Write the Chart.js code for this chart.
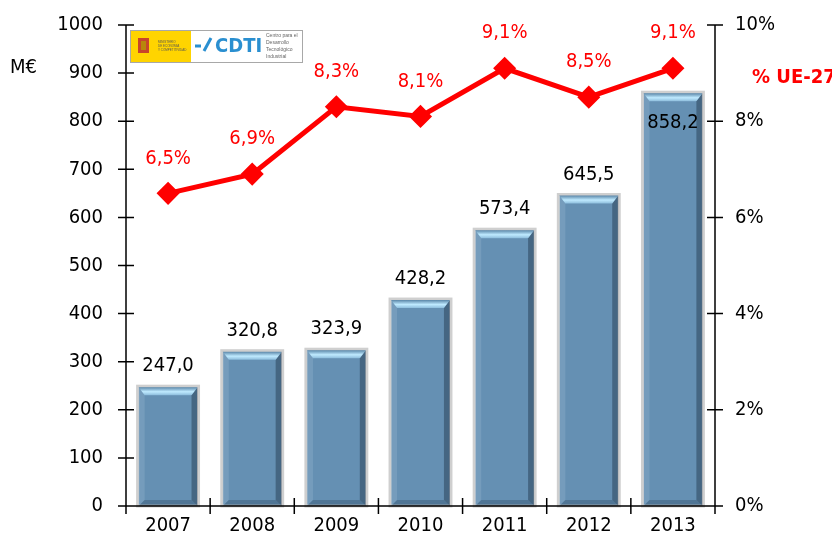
<!DOCTYPE html>
<html>
<head>
<meta charset="utf-8">
<script src="https://cdn.jsdelivr.net/npm/chart.js@4"></script>
<style>
  html, body { margin: 0; padding: 0; background: #fff; }
  #wrap { width: 832px; height: 546px; position: relative; }
</style>
</head>
<body>
<div id="wrap"><canvas id="chart" width="832" height="546"></canvas></div>
<script>
// datos
const years = ['2007', '2008', '2009', '2010', '2011', '2012', '2013'];
const retornos = [247.0, 320.8, 323.9, 428.2, 573.4, 645.5, 858.2];
const pctUE = [6.5, 6.9, 8.3, 8.1, 9.1, 8.5, 9.1];
const leftTicks = [0, 100, 200, 300, 400, 500, 600, 700, 800, 900, 1000];
const rightTicks = [0, 2, 4, 6, 8, 10];

const FONT = "'DejaVu Sans Condensed', 'Liberation Sans Narrow', 'Liberation Sans', sans-serif";

function fmt(v, d) {
    return v.toFixed(d).replace('.', ',');
}

// ejes con marcas que cruzan la linea
const axesPlugin = {
    id: 'axesPlugin',
    afterDraw(chart) {
        const c = chart.ctx;
        const a = chart.chartArea;
        const y = chart.scales.y;
        const y2 = chart.scales.y2;
        c.save();
        c.strokeStyle = '#000';
        c.lineWidth = 1.5;
        c.beginPath();
        c.moveTo(a.left, a.top); c.lineTo(a.left, a.bottom);
        c.moveTo(a.right, a.top); c.lineTo(a.right, a.bottom);
        c.moveTo(a.left - 8, a.bottom); c.lineTo(a.right + 8, a.bottom);
        leftTicks.forEach(t => {
            const py = y.getPixelForValue(t);
            c.moveTo(a.left - 8, py); c.lineTo(a.left + 8, py);
        });
        rightTicks.forEach(t => {
            const py = y2.getPixelForValue(t);
            c.moveTo(a.right - 8, py); c.lineTo(a.right + 8, py);
        });
        const w = (a.right - a.left) / years.length;
        for (let i = 0; i <= years.length; i++) {
            const px = a.left + w * i;
            c.moveTo(px, a.bottom - 8); c.lineTo(px, a.bottom + 8);
        }
        c.stroke();

        // unidades
        c.font = '20px ' + FONT;
        c.fillStyle = '#000';
        c.textAlign = 'left';
        c.textBaseline = 'middle';
        c.fillText('M€', 10, 68);
        c.fillStyle = '#ff0000';
        c.font = 'bold 20px ' + FONT;
        c.fillText('% UE-27', 752, 78);

        // logo
        c.fillStyle = '#ffd400';
        c.fillRect(131, 31, 60, 31);
        c.fillStyle = '#fff';
        c.fillRect(191, 31, 111, 31);
        c.strokeStyle = '#a8a8a8';
        c.lineWidth = 1;
        c.strokeRect(130.5, 30.5, 172, 32);
        c.fillStyle = '#c8452a';
        c.fillRect(138, 38, 11, 15);
        c.fillStyle = '#b8860b';
        c.fillRect(141, 41, 5, 9);
        c.fillStyle = '#555';
        c.font = '3px sans-serif';
        c.fillText('MINISTERIO', 158, 42);
        c.fillText('DE ECONOMÍA', 158, 46);
        c.fillText('Y COMPETITIVIDAD', 158, 50);
        c.fillStyle = '#2a8fd0';
        c.font = 'bold 20px ' + FONT;
        c.fillText('CDTI', 215, 47);
        c.beginPath();
        c.lineWidth = 3;
        c.strokeStyle = '#2a8fd0';
        c.moveTo(195, 46); c.lineTo(201, 46);
        c.moveTo(204, 51); c.lineTo(211, 38);
        c.stroke();
        c.fillStyle = '#666';
        c.font = '5px sans-serif';
        c.fillText('Centro para el', 266, 36);
        c.fillText('Desarrollo', 266, 43);
        c.fillText('Tecnológico', 266, 50);
        c.fillText('Industrial', 266, 57);

        c.restore();
    }
};

// biselado de las barras
const bevelPlugin = {
    id: 'bevelPlugin',
    afterDatasetDraw(chart, args) {
        if (args.index !== 0) return;
        const c = chart.ctx;
        chart.getDatasetMeta(0).data.forEach(bar => {
            const l = bar.x - bar.width / 2;
            const r = bar.x + bar.width / 2;
            const t = bar.y;
            const b = bar.base;
            c.save();
            c.strokeStyle = '#cfcfcf';
            c.lineWidth = 3;
            c.strokeRect(l - 1, t - 1, r - l + 2, b - t + 1);
            c.fillStyle = 'rgba(30,50,70,0.45)';
            c.beginPath();
            c.moveTo(r, t); c.lineTo(r - 6, t + 8); c.lineTo(r - 6, b - 6); c.lineTo(r, b);
            c.closePath(); c.fill();
            c.fillStyle = 'rgba(150,180,205,0.35)';
            c.beginPath();
            c.moveTo(l, t); c.lineTo(l + 6, t + 8); c.lineTo(l + 6, b - 6); c.lineTo(l, b);
            c.closePath(); c.fill();
            c.fillStyle = 'rgba(40,70,95,0.35)';
            c.beginPath();
            c.moveTo(l, b); c.lineTo(l + 6, b - 6); c.lineTo(r - 6, b - 6); c.lineTo(r, b);
            c.closePath(); c.fill();
            const g = c.createLinearGradient(0, t, 0, t + 9);
            g.addColorStop(0, '#5a86a8');
            g.addColorStop(0.5, '#bfeaff');
            g.addColorStop(1, '#7fb0d2');
            c.fillStyle = g;
            c.beginPath();
            c.moveTo(l, t); c.lineTo(r, t); c.lineTo(r - 6, t + 8); c.lineTo(l + 6, t + 8);
            c.closePath(); c.fill();
            c.restore();
        });
    }
};

// etiquetas de valores
const labelPlugin = {
    id: 'labelPlugin',
    afterDatasetsDraw(chart) {
        const c = chart.ctx;
        c.save();
        c.textAlign = 'center';
        c.textBaseline = 'middle';
        c.font = '20px ' + FONT;
        c.fillStyle = '#000';
        chart.getDatasetMeta(0).data.forEach((bar, i) => {
            let py = bar.y - 21;
            if (py < chart.getDatasetMeta(1).data[i].y + 12) py = bar.y + 30;
            c.fillText(fmt(retornos[i], 1), bar.x, py);
        });
        c.fillStyle = '#ff0000';
        chart.getDatasetMeta(1).data.forEach((pt, i) => {
            c.fillText(fmt(pctUE[i], 1) + '%', pt.x, pt.y - 35);
        });
        c.restore();
    }
};

function noPad(s) {
    s.paddingTop = 0;
    s.paddingBottom = 0;
}

new Chart(
    document.getElementById('chart'),
    {
        type: 'bar',
        plugins: [bevelPlugin, labelPlugin, axesPlugin],
        options: {
            responsive: false,
            animation: false,
            layout: { padding: { top: 25, left: 0, right: 0, bottom: 0 } },
            plugins: {
                legend: { display: false },
                tooltip: { enabled: false }
            },
            scales: {
                x: {
                    offset: true,
                    grid: { display: false },
                    border: { display: false },
                    ticks: { color: '#000', font: { family: FONT, size: 20 }, padding: 0 },
                    afterFit: s => { s.height = 40; s.paddingLeft = 0; s.paddingRight = 0; }
                },
                y: {
                    position: 'left',
                    min: 0, max: 1000,
                    grid: { display: false },
                    border: { display: false },
                    afterBuildTicks: s => { s.ticks = leftTicks.map(v => ({ value: v })); },
                    ticks: { color: '#000', font: { family: FONT, size: 20 }, padding: 15,
                        callback: v => String(v) },
                    afterFit: s => { s.width = 126; noPad(s); }
                },
                y2: {
                    position: 'right',
                    min: 0, max: 10,
                    grid: { display: false },
                    border: { display: false },
                    afterBuildTicks: s => { s.ticks = rightTicks.map(v => ({ value: v })); },
                    ticks: { color: '#000', font: { family: FONT, size: 20 }, padding: 12,
                        callback: v => v + '%' },
                    afterFit: s => { s.width = 117; noPad(s); }
                }
            }
        },
        data: {
            labels: years,
            datasets: [
                {
                    type: 'bar',
                    label: 'M€',
                    data: retornos,
                    yAxisID: 'y',
                    backgroundColor: '#6590b3',
                    barPercentage: 0.7,
                    categoryPercentage: 1,
                    order: 2
                },
                {
                    type: 'line',
                    label: '% UE-27',
                    data: pctUE,
                    yAxisID: 'y2',
                    borderColor: '#ff0000',
                    backgroundColor: '#ff0000',
                    borderWidth: 5,
                    pointStyle: 'rectRot',
                    pointRadius: 8,
                    tension: 0,
                    order: 1
                }
            ]
        }
    }
);
</script>
</body>
</html>
